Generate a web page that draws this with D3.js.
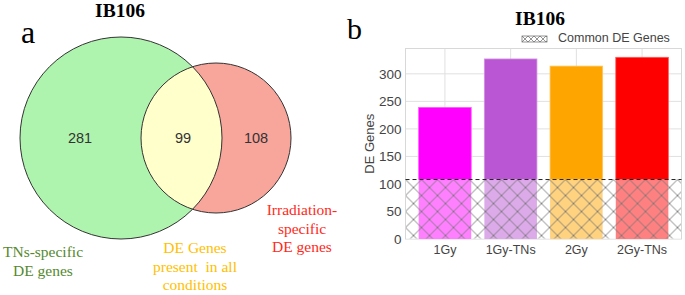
<!DOCTYPE html>
<html>
<head>
<meta charset="utf-8">
<script src="https://cdn.jsdelivr.net/npm/d3@7"></script>
<style>
  body { margin: 0; background: #fff; }
  svg { display: block; }
</style>
</head>
<body>
<div id="chart"></div>
<script>
// Data
const vennCounts = [281, 99, 108]
const vennLabels = [
  ["TNs-specific", "DE genes"],
  ["DE Genes", "present\u00a0 in all", "conditions"],
  ["Irradiation-", "specific", "DE genes"]
]
const categories = ["1Gy", "1Gy-TNs", "2Gy", "2Gy-TNs"]
const deGenes = [239, 327, 314, 330]
const commonGenes = 108
const yTicks = [0, 50, 100, 150, 200, 250, 300]
const barColors = ["#ff00ff", "#ba55d3", "#ffa500", "#ff0000"]

const serif = "'Liberation Serif', 'Times New Roman', serif"
const sans = "Arial, 'Liberation Sans', sans-serif"

const svg = d3.select("#chart")
  .append("svg")
  .attr("width", 685)
  .attr("height", 295)

const defs = svg.append("defs")

// ---------- panel a : Venn ----------
const sets = { a: { cx: 121, cy: 138, r: 101 }, b: { cx: 216, cy: 138, r: 75 } }

defs.append("clipPath").attr("id", "clipA")
  .append("circle").attr("cx", sets.a.cx).attr("cy", sets.a.cy).attr("r", sets.a.r)

const venn = svg.append("g")

venn.append("circle")
  .attr("cx", sets.a.cx).attr("cy", sets.a.cy).attr("r", sets.a.r)
  .attr("fill", "#aff4ae")
venn.append("circle")
  .attr("cx", sets.b.cx).attr("cy", sets.b.cy).attr("r", sets.b.r)
  .attr("fill", "#f8a59b")
venn.append("circle")
  .attr("clip-path", "url(#clipA)")
  .attr("cx", sets.b.cx).attr("cy", sets.b.cy).attr("r", sets.b.r)
  .attr("fill", "#ffffcc")
venn.selectAll("circle.outline")
  .data([sets.a, sets.b])
  .join("circle")
  .classed("outline", true)
  .attr("cx", d => d.cx).attr("cy", d => d.cy).attr("r", d => d.r)
  .attr("fill", "none")
  .attr("stroke", "#333")
  .attr("stroke-width", 1)

const countX = [80, 183, 256]
venn.selectAll("text.count")
  .data(vennCounts)
  .join("text")
  .classed("count", true)
  .attr("x", (d, i) => countX[i])
  .attr("y", 143)
  .attr("text-anchor", "middle")
  .attr("font-family", sans)
  .attr("font-size", 14.5)
  .attr("fill", "#333")
  .text(d => d)

const labelPos = [
  { x: 43, y: 257, color: "#54892f" },
  { x: 195, y: 253, color: "#ffc000" },
  { x: 302, y: 215, color: "#ff2a1a" }
]
vennLabels.forEach((lines, i) => {
  const t = venn.append("text")
    .attr("text-anchor", "middle")
    .attr("font-family", serif)
    .attr("font-size", 15.5)
    .attr("fill", labelPos[i].color)
  lines.forEach((line, j) => {
    t.append("tspan")
      .attr("x", labelPos[i].x)
      .attr("y", labelPos[i].y + j * 18.5)
      .text(line)
  })
})

svg.append("text")
  .attr("x", 120).attr("y", 17)
  .attr("text-anchor", "middle")
  .attr("font-family", serif)
  .attr("font-weight", "bold")
  .attr("font-size", 19.5)
  .text("IB106")

svg.append("text")
  .attr("x", 21).attr("y", 43)
  .attr("font-family", serif)
  .attr("font-size", 32)
  .text("a")

// ---------- panel b : bars ----------
const plot = { left: 405.5, right: 681.5, top: 48.5, bottom: 239 }

const xScale = d3.scaleBand()
  .domain(categories)
  .range([plot.left, plot.right])
  .paddingInner(0.2)
  .paddingOuter(0.2)

const yScale = d3.scaleLinear()
  .domain([0, 346])
  .range([plot.bottom, plot.top])

const hatch = defs.append("pattern")
  .attr("id", "hatch")
  .attr("patternUnits", "userSpaceOnUse")
  .attr("width", 16).attr("height", 16)
  .attr("x", plot.left).attr("y", yScale(commonGenes))
hatch.append("path")
  .attr("d", "M0,0L16,16M16,0L0,16")
  .attr("stroke", "#777")
  .attr("stroke-width", 0.9)
  .attr("fill", "none")

const legHatch = defs.append("pattern")
  .attr("id", "legHatch")
  .attr("patternUnits", "userSpaceOnUse")
  .attr("width", 6).attr("height", 6)
  .attr("x", 522).attr("y", 36)
legHatch.append("path")
  .attr("d", "M0,0L6,6M6,0L0,6")
  .attr("stroke", "#666")
  .attr("stroke-width", 0.7)

const bars = svg.append("g")

// grid
bars.selectAll("line.hgrid")
  .data(yTicks.filter(d => d > 0))
  .join("line")
  .classed("hgrid", true)
  .attr("x1", plot.left).attr("x2", plot.right)
  .attr("y1", d => yScale(d)).attr("y2", d => yScale(d))
  .attr("stroke", "#e0e0e0")
bars.selectAll("line.vgrid")
  .data(categories)
  .join("line")
  .classed("vgrid", true)
  .attr("x1", d => xScale(d) + xScale.bandwidth() / 2)
  .attr("x2", d => xScale(d) + xScale.bandwidth() / 2)
  .attr("y1", plot.top).attr("y2", plot.bottom)
  .attr("stroke", "#e0e0e0")
bars.append("rect")
  .attr("x", plot.left).attr("y", plot.top)
  .attr("width", plot.right - plot.left)
  .attr("height", plot.bottom - plot.top)
  .attr("fill", "none")
  .attr("stroke", "#d8d8d8")

// white base under the common band, then bars
bars.append("rect")
  .attr("x", plot.left + 0.5).attr("y", yScale(commonGenes))
  .attr("width", plot.right - plot.left - 1)
  .attr("height", plot.bottom - yScale(commonGenes) - 0.5)
  .attr("fill", "#fff")

bars.selectAll("rect.upper")
  .data(deGenes)
  .join("rect")
  .classed("upper", true)
  .attr("x", (d, i) => xScale(categories[i]))
  .attr("width", xScale.bandwidth())
  .attr("y", d => yScale(d))
  .attr("height", d => yScale(commonGenes) - yScale(d))
  .attr("fill", (d, i) => barColors[i])
  .attr("stroke", (d, i) => d3.interpolateRgb(barColors[i], "#fff")(0.35))
  .attr("stroke-width", 0.8)

bars.selectAll("rect.lower")
  .data(deGenes)
  .join("rect")
  .classed("lower", true)
  .attr("x", (d, i) => xScale(categories[i]))
  .attr("width", xScale.bandwidth())
  .attr("y", yScale(commonGenes))
  .attr("height", plot.bottom - yScale(commonGenes))
  .attr("fill", (d, i) => d3.interpolateRgb(barColors[i], "#fff")(0.5))

bars.append("rect")
  .attr("x", plot.left + 0.5).attr("y", yScale(commonGenes))
  .attr("width", plot.right - plot.left - 1)
  .attr("height", plot.bottom - yScale(commonGenes) - 0.5)
  .attr("fill", "url(#hatch)")

bars.append("line")
  .attr("x1", plot.left).attr("x2", plot.right)
  .attr("y1", yScale(commonGenes)).attr("y2", yScale(commonGenes))
  .attr("stroke", "#222")
  .attr("stroke-width", 1)
  .attr("stroke-dasharray", "4,3")

// axes
const yAxis = d3.axisLeft(yScale).tickValues(yTicks).tickSize(0).tickPadding(4)
const yAxisGroup = svg.append("g")
  .attr("transform", `translate(${plot.left}, 0)`)
  .call(yAxis)
yAxisGroup.select(".domain").remove()
yAxisGroup.selectAll("text")
  .attr("font-family", sans)
  .attr("font-size", 13.5)
  .attr("fill", "#444")

const xAxis = d3.axisBottom(xScale).tickSize(0).tickPadding(6)
const xAxisGroup = svg.append("g")
  .attr("transform", `translate(0, ${plot.bottom})`)
  .call(xAxis)
xAxisGroup.select(".domain").remove()
xAxisGroup.selectAll("text")
  .attr("font-family", sans)
  .attr("font-size", 12.5)
  .attr("fill", "#444")

svg.append("text")
  .attr("transform", `translate(374, ${(plot.top + plot.bottom) / 2}) rotate(-90)`)
  .attr("text-anchor", "middle")
  .attr("font-family", sans)
  .attr("font-size", 13)
  .attr("fill", "#444")
  .text("DE Genes")

// legend
svg.append("rect")
  .attr("x", 522).attr("y", 36)
  .attr("width", 25).attr("height", 6)
  .attr("fill", "url(#legHatch)")
  .attr("stroke", "#666")
  .attr("stroke-width", 0.7)
svg.append("text")
  .attr("x", 558).attr("y", 42)
  .attr("font-family", sans)
  .attr("font-size", 12.5)
  .attr("fill", "#444")
  .text("Common DE Genes")

svg.append("text")
  .attr("x", 540).attr("y", 25)
  .attr("text-anchor", "middle")
  .attr("font-family", serif)
  .attr("font-weight", "bold")
  .attr("font-size", 19.5)
  .text("IB106")

svg.append("text")
  .attr("x", 347).attr("y", 39)
  .attr("font-family", serif)
  .attr("font-size", 30)
  .text("b")
</script>
</body>
</html>
